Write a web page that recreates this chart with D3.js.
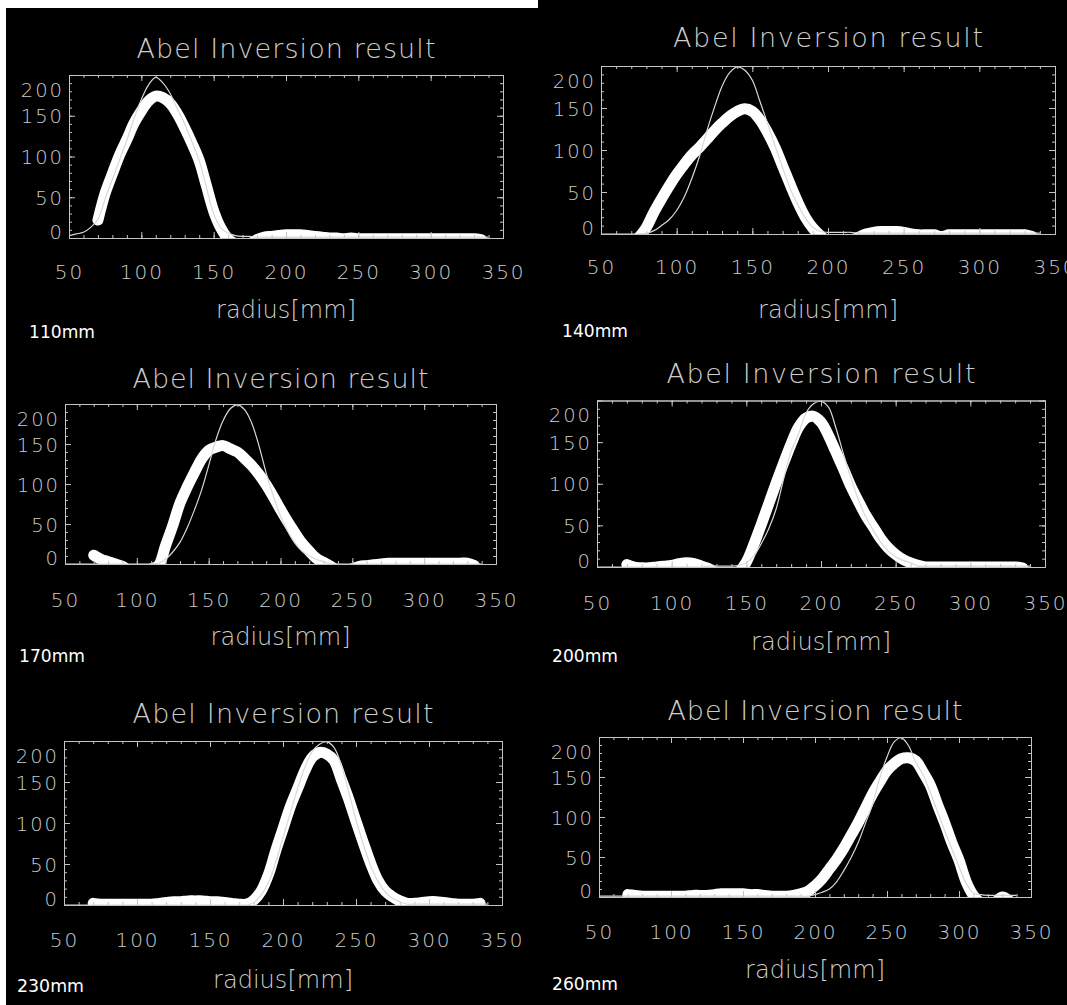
<!DOCTYPE html>
<html>
<head>
<meta charset="utf-8">
<script src="https://cdn.jsdelivr.net/npm/d3@7"></script>
<style>
  html, body { margin: 0; padding: 0; background: #ffffff; }
  svg { display: block; }
</style>
</head>
<body>
<svg id="chart" width="1067" height="1005"></svg>
<script>
// ---------------- data ----------------
const RADIUS = [50,55,60,65,70,75,80,85,90,95,100,105,110,115,120,125,130,135,140,145,150,155,160,165,170,175,180,185,190,195,200,205,210,215,220,225,230,235,240,245,250,255,260,265,270,275,280,285,290,295,300,305,310,315,320,325,330,335,340];

const PANEL_LABELS = ["110mm", "140mm", "170mm", "200mm", "230mm", "260mm"];
const TITLE = "Abel Inversion result";
const X_LABEL = "radius[mm]";
const X_TICKS = [50, 100, 150, 200, 250, 300, 350];
const Y_TICKS = [0, 50, 100, 150, 200];
const X_DOMAIN = [50, 350];
const Y_DOMAIN = [0, 200];

// thick band: Abel-inverted profile (null = not plotted)
const BAND_110 = [null,null,null,null,22,55,79,102,121,141,156,168,174,172,165,152,135,116,95,64,33,12,-1,-7,-9,-7,-2,1,2,3,4,4,4,3,2,1,0,0,-1,0,-1,-1,-1,-1,-1,-1,-1,-1,-1,-1,-1,-1,-1,-1,-1,-1,-1,-2,null];
const BAND_140 = [null,null,null,null,null,-4,8,26,42,57,71,83,94,103,113,123,132,140,146,149,146,136,121,103,81,59,38,20,7,-2,-9,-11,-11,-8,-4,0,2,3,3,3,2,0,-1,-1,-1,-3,-1,-1,-1,-1,-1,-1,-1,-1,-1,-1,-1,-3,null];
const BAND_170 = [null,null,null,null,11,6,3,0,-3,-8,-9,-9,-6,-2,23,48,76,96,114,131,142,146,148,144,140,132,123,112,99,84,68,53,39,26,16,7,2,-3,-8,-9,-6,-3,-2,-1,0,1,1,1,1,1,1,1,1,1,1,1,1,-2,null];
const BAND_200 = [null,null,null,null,3,0,-1,-1,0,1,2,4,5,4,1,-2,-7,-11,-11,-6,6,27,51,76,101,125,148,168,179,181,174,158,138,118,97,79,62,48,34,23,15,9,5,2,0,0,0,0,0,0,0,0,0,0,0,0,0,-1,null];
const BAND_230 = [null,null,null,null,2,1,1,1,1,1,1,1,1,2,3,4,4,5,5,5,4,4,3,2,1,1,6,17,37,66,93,120,142,164,180,186,184,176,153,129,102,76,51,30,17,10,5,2,2,3,4,4,3,2,1,1,1,2,null];
const BAND_260 = [null,null,null,null,3,2,1,1,1,1,1,1,1,2,2,2,3,4,4,4,4,3,3,2,1,1,1,2,4,7,14,23,35,47,61,77,93,111,129,144,158,167,173,174,170,156,140,116,93,68,46,19,2,-7,-11,-7,0,-5,null];

// thin line: fitted profile
const FIT_110 = [3,5,7,13,23,48,72,96,120,147,170,188,197,190,177,158,140,118,95,62,30,12,6,3,2,2,1,1,1,1,1,1,1,1,1,1,1,1,1,1,1,1,1,1,1,1,1,1,1,1,1,1,1,1,1,1,1,1,1];
const FIT_140 = [0,0,0,0,0,0,1,4,10,17,28,44,66,92,123,151,176,192,199,195,183,158,132,105,79,54,35,19,8,3,2,2,2,2,1,1,1,1,1,1,1,1,1,1,1,1,1,1,1,1,1,1,1,1,1,1,1,1,1];
const FIT_170 = [0,0,0,0,0,0,0,0,0,0,0,0,0,1,6,15,27,45,67,92,123,155,179,194,199,193,176,148,114,85,60,41,26,16,10,6,3,0,0,0,0,0,0,0,0,0,0,0,0,0,0,0,0,0,0,0,0,0,0];
const FIT_200 = [0,0,0,0,0,0,0,0,0,0,0,0,0,0,0,1,1,1,1,2,5,13,28,46,70,106,139,160,185,196,199,192,167,136,107,81,60,44,30,19,12,8,5,1,1,1,1,1,1,1,1,1,1,1,1,1,1,1,1];
const FIT_230 = [0,0,0,0,0,0,0,0,0,0,0,0,0,0,0,0,0,0,0,0,0,0,0,0,0,0,3,12,27,52,82,112,142,168,187,196,199,192,170,138,104,74,48,29,16,8,4,1,1,1,1,1,1,1,1,1,1,1,1];
const FIT_260 = [1,1,1,1,1,1,1,1,1,1,1,1,1,1,1,1,1,1,1,1,1,1,1,1,1,1,1,1,1,1,3,6,10,19,33,49,68,92,116,149,175,194,199,189,168,153,131,107,83,60,38,17,5,3,2,2,2,2,2];

const BANDS = [BAND_110, BAND_140, BAND_170, BAND_200, BAND_230, BAND_260];
const FITS  = [FIT_110, FIT_140, FIT_170, FIT_200, FIT_230, FIT_260];

// ---------------- layout (pixel geometry of each panel) ----------------
const LAYOUT = [
  {x0: 69,  y0: 75,    x1: 503,  y1: 238, titleY: 58,  titleW: 299, xlabY: 272, axisTitleY: 318, tagX: 29,  tagY: 338, tagW: 66},
  {x0: 601, y0: 66,    x1: 1055, y1: 234, titleY: 47,  titleW: 310, xlabY: 267, axisTitleY: 318, tagX: 562, tagY: 337, tagW: 66},
  {x0: 65,  y0: 404,   x1: 496,  y1: 564, titleY: 388, titleW: 296, xlabY: 600, axisTitleY: 645, tagX: 19,  tagY: 662, tagW: 66},
  {x0: 597, y0: 400.5, x1: 1045, y1: 567, titleY: 383, titleW: 309, xlabY: 603, axisTitleY: 650, tagX: 552, tagY: 662, tagW: 66},
  {x0: 64,  y0: 741,   x1: 502,  y1: 905, titleY: 723, titleW: 301, xlabY: 940, axisTitleY: 988, tagX: 17,  tagY: 992, tagW: 67},
  {x0: 599, y0: 737,   x1: 1031, y1: 897, titleY: 720, titleW: 295, xlabY: 932, axisTitleY: 978, tagX: 552, tagY: 990, tagW: 66}
];

const AXIS_COLOR = "#c4c4c4";
const TEXT_COLOR = "#cccccc";
const FONT = "'DejaVu Sans', 'Liberation Sans', sans-serif";

// ---------------- drawing ----------------
const svg = d3.select("#chart");
const defs = svg.append("defs");

// background: white margin strips, black image area
svg.append("rect").attr("x", 0).attr("y", 0).attr("width", 1067).attr("height", 1005).attr("fill", "#ffffff");
svg.append("rect").attr("x", 6).attr("y", 8).attr("width", 533).attr("height", 997).attr("fill", "#000000");
svg.append("rect").attr("x", 538).attr("y", 0).attr("width", 529).attr("height", 1005).attr("fill", "#000000");

function styleAxis(sel) {
  sel.selectAll("path.domain").attr("stroke", AXIS_COLOR).attr("stroke-width", 1);
  sel.selectAll(".tick line").attr("stroke", AXIS_COLOR).attr("stroke-width", 1);
}

LAYOUT.forEach((L, i) => {
  const g = svg.append("g").attr("class", "panel");
  const x = d3.scaleLinear().domain(X_DOMAIN).range([L.x0, L.x1]);
  const y = d3.scaleLinear().domain(Y_DOMAIN).range([L.y1, L.y0]);

  const clipId = "clip" + i;
  defs.append("clipPath").attr("id", clipId)
    .append("rect")
    .attr("x", L.x0).attr("y", L.y0)
    .attr("width", L.x1 - L.x0).attr("height", L.y1 - L.y0);

  const plot = g.append("g").attr("clip-path", `url(#${clipId})`);

  const bandData = RADIUS.map((r, k) => ({ r: r, v: BANDS[i][k] }));
  const fitData = RADIUS.map((r, k) => ({ r: r, v: FITS[i][k] }));

  const line = d3.line()
    .defined(d => d.v !== null && d.v !== undefined)
    .x(d => x(d.r))
    .y(d => y(d.v))
    .curve(d3.curveCatmullRom.alpha(0.5));

  plot.append("path")
    .attr("d", line(bandData))
    .attr("fill", "none")
    .attr("stroke", "#ffffff")
    .attr("stroke-width", 11)
    .attr("stroke-linecap", "round")
    .attr("stroke-linejoin", "round");

  plot.append("path")
    .attr("d", line(fitData))
    .attr("fill", "none")
    .attr("stroke", "#d8d8d8")
    .attr("stroke-width", 1.2);

  // frame + ticks (major every 50, minor every 10), ticks pointing inward
  const minorX = d3.range(X_DOMAIN[0], X_DOMAIN[1] + 1, 10);
  const minorY = d3.range(Y_DOMAIN[0], Y_DOMAIN[1] + 1, 10);

  const bottomMinor = g.append("g").attr("transform", `translate(0,${L.y1})`)
    .call(d3.axisBottom(x).tickValues(minorX).tickSize(-3).tickSizeOuter(0).tickFormat(""));
  const bottomMajor = g.append("g").attr("transform", `translate(0,${L.y1})`)
    .call(d3.axisBottom(x).tickValues(X_TICKS).tickSize(-6).tickSizeOuter(0).tickFormat(""));
  const topMinor = g.append("g").attr("transform", `translate(0,${L.y0})`)
    .call(d3.axisTop(x).tickValues(minorX).tickSize(-3).tickSizeOuter(0).tickFormat(""));
  const topMajor = g.append("g").attr("transform", `translate(0,${L.y0})`)
    .call(d3.axisTop(x).tickValues(X_TICKS).tickSize(-6).tickSizeOuter(0).tickFormat(""));
  const leftMinor = g.append("g").attr("transform", `translate(${L.x0},0)`)
    .call(d3.axisLeft(y).tickValues(minorY).tickSize(-3).tickSizeOuter(0).tickFormat(""));
  const leftMajor = g.append("g").attr("transform", `translate(${L.x0},0)`)
    .call(d3.axisLeft(y).tickValues(Y_TICKS).tickSize(-6).tickSizeOuter(0).tickFormat(""));
  const rightMinor = g.append("g").attr("transform", `translate(${L.x1},0)`)
    .call(d3.axisRight(y).tickValues(minorY).tickSize(-3).tickSizeOuter(0).tickFormat(""));
  const rightMajor = g.append("g").attr("transform", `translate(${L.x1},0)`)
    .call(d3.axisRight(y).tickValues(Y_TICKS).tickSize(-6).tickSizeOuter(0).tickFormat(""));
  [bottomMinor, bottomMajor, topMinor, topMajor, leftMinor, leftMajor, rightMinor, rightMajor].forEach(styleAxis);

  // x tick labels
  const xLab = g.append("g").attr("transform", `translate(0,${L.xlabY})`)
    .call(d3.axisBottom(x).tickValues(X_TICKS).tickSize(0).tickPadding(0).tickFormat(d3.format("d")));
  xLab.select("path.domain").remove();
  xLab.attr("font-family", null).attr("font-size", null);
  xLab.selectAll("text")
    .attr("y", 0).attr("dy", "0.36em")
    .attr("fill", TEXT_COLOR)
    .style("font-family", FONT).style("font-size", "20px").style("font-weight", "200")
    .style("letter-spacing", "2px");

  // y tick labels (extreme labels sit inside the frame range, as in the original)
  const yLab = g.append("g").attr("transform", `translate(${L.x0},0)`)
    .call(d3.axisLeft(y).tickValues(Y_TICKS).tickSize(0).tickPadding(5).tickFormat(d3.format("d")));
  yLab.select("path.domain").remove();
  yLab.attr("font-family", null).attr("font-size", null);
  yLab.selectAll("text")
    .attr("dy", "0.36em")
    .attr("fill", TEXT_COLOR)
    .style("font-family", FONT).style("font-size", "19.5px").style("font-weight", "200")
    .style("letter-spacing", "2px")
    .attr("transform", d => d === Y_DOMAIN[1] ? "translate(0,14)" : (d === Y_DOMAIN[0] ? "translate(0,-7)" : null));

  // title
  g.append("text")
    .attr("x", (L.x0 + L.x1) / 2).attr("y", L.titleY)
    .attr("text-anchor", "middle")
    .attr("textLength", L.titleW).attr("lengthAdjust", "spacing")
    .attr("fill", TEXT_COLOR)
    .style("font-family", FONT).style("font-size", "27px").style("font-weight", "200")
    .text(TITLE);

  // x-axis title
  g.append("text")
    .attr("x", (L.x0 + L.x1) / 2).attr("y", L.axisTitleY)
    .attr("text-anchor", "middle")
    .attr("textLength", 140).attr("lengthAdjust", "spacing")
    .attr("fill", TEXT_COLOR)
    .style("font-family", FONT).style("font-size", "24px").style("font-weight", "200")
    .text(X_LABEL);

  // panel tag
  g.append("text")
    .attr("x", L.tagX).attr("y", L.tagY)
    .attr("textLength", L.tagW).attr("lengthAdjust", "spacingAndGlyphs")
    .attr("fill", "#ffffff")
    .style("font-family", FONT).style("font-size", "18px").style("font-weight", "normal")
    .text(PANEL_LABELS[i]);
});
</script>
</body>
</html>
